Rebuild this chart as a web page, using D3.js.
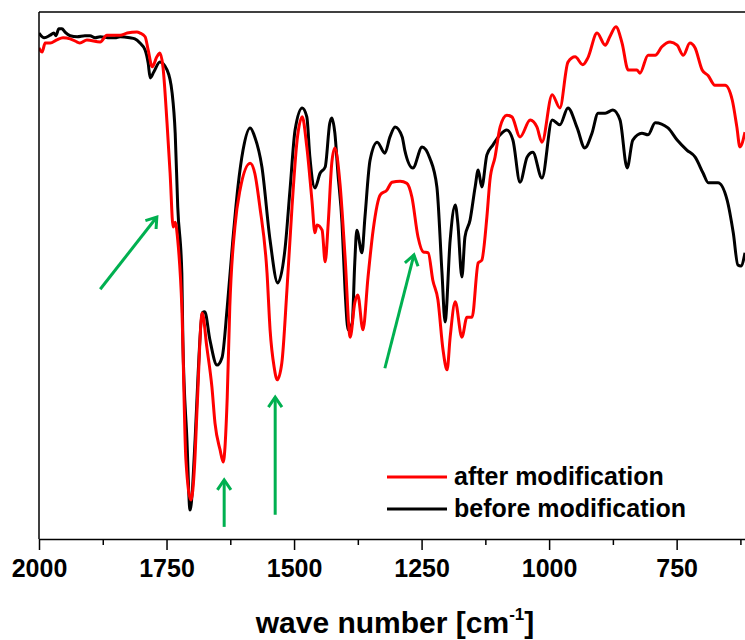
<!DOCTYPE html>
<html>
<head>
<meta charset="utf-8">
<script src="https://cdn.jsdelivr.net/npm/d3@7"></script>
<style>
  body { margin: 0; background: #fff; }
  text { font-family: Arial, "Liberation Sans", sans-serif; font-weight: bold; }
</style>
</head>
<body>
<div id="chart"></div>
<script>
// wavenumbers (cm-1) and transmittance (a.u., 0-100)
const beforeWn = [2000,1990,1978,1971,1967,1961,1955,1949,1939,1925,1910,1900,1890,1880,1861,1851,1841,1822,1812,1802,1792,1786,1782,1775,1763,1749,1739,1733,1728,1720,1718,1710,1704,1694,1688,1680,1675,1665,1651,1641,1631,1620,1610,1600,1586,1577,1563,1547,1532,1518,1508,1498,1484,1475,1469,1459,1449,1439,1430,1426,1420,1414,1406,1400,1394,1386,1381,1377,1367,1361,1351,1337,1322,1312,1302,1288,1283,1267,1249,1234,1220,1210,1204,1194,1184,1179,1171,1165,1155,1145,1139,1132,1122,1110,1096,1083,1071,1057,1043,1032,1014,994,979,963,945,930,916,904,890,875,861,847,836,818,806,792,767,749,730,714,698,688,669,651,639,630,624,616];
const beforeT = [96.0,95.1,95.6,96.0,95.5,96.8,96.8,96.2,95.5,95.3,95.5,95.5,95.1,95.3,95.1,95.1,95.3,95.1,94.9,94.1,92.8,90.3,87.5,88.6,90.5,89.0,84.6,77.0,63.0,50.5,37.8,18.8,5.5,18.8,31.5,42.9,43.1,37.8,33.0,34.5,44.0,56.7,66.8,73.8,78.0,76.3,70.6,56.7,48.6,54.8,66.2,77.6,81.8,80.1,72.5,66.6,69.4,70.6,78.9,79.9,77.0,69.4,60.0,47.2,39.7,41.0,52.4,58.6,54.3,61.1,71.9,75.3,73.2,76.3,78.2,76.3,73.8,70.4,74.4,72.3,66.8,50.5,41.2,56.7,63.4,60.0,49.7,57.3,60.5,66.8,70.0,66.8,72.9,74.8,76.7,77.6,75.7,67.7,72.5,73.4,68.5,79.5,78.6,81.8,78.0,74.2,77.0,80.8,80.8,81.4,79.5,70.4,75.7,77.0,76.7,79.0,78.0,75.7,73.8,72.5,69.4,67.6,67.6,64.3,58.1,52.0,51.8,54.3];

const afterWn = [2000,1994,1988,1978,1965,1953,1939,1925,1920,1906,1880,1867,1841,1827,1808,1802,1792,1786,1778,1769,1763,1757,1749,1743,1737,1733,1728,1720,1712,1702,1695,1690,1680,1671,1661,1655,1645,1639,1631,1626,1616,1606,1586,1577,1567,1553,1547,1539,1533,1524,1514,1504,1494,1484,1475,1465,1459,1455,1445,1439,1433,1426,1420,1410,1400,1390,1381,1375,1365,1355,1345,1331,1318,1308,1292,1279,1269,1257,1247,1237,1228,1218,1208,1200,1194,1184,1171,1161,1151,1139,1132,1122,1116,1106,1096,1083,1073,1057,1037,1024,1014,994,979,963,949,934,924,906,890,881,869,857,845,828,822,806,792,779,763,749,737,724,714,700,688,675,655,641,632,626,616];
const afterT = [93.2,92.4,94.1,94.1,94.7,95.1,94.9,94.3,94.1,94.7,94.3,95.6,95.6,96.0,96.2,96.0,95.3,92.8,89.6,91.5,92.2,89.6,78.9,69.4,59.2,60.1,56.7,44.0,15.0,7.4,14.0,25.0,42.9,36.4,28.8,22.0,16.9,14.6,26.9,44.0,59.2,66.2,71.3,69.4,63.0,50.5,39.7,32.6,30.2,33.4,47.2,63.0,75.7,80.1,74.4,64.3,58.1,59.6,58.6,52.6,60.0,71.4,74.2,67.5,53.5,38.3,44.8,46.3,39.7,49.7,58.6,65.3,66.2,67.7,67.9,67.5,64.9,57.3,54.5,54.3,49.1,45.4,35.9,32.1,38.3,45.0,38.3,42.1,42.1,52.4,52.9,61.1,68.1,72.5,78.2,80.4,80.1,76.3,79.5,78.2,75.3,84.3,81.8,90.5,91.5,90.0,91.3,96.0,93.7,95.3,97.2,94.1,89.0,89.0,88.4,91.8,91.8,93.4,94.3,93.7,91.8,94.1,93.2,89.0,87.9,86.1,86.1,83.3,78.2,74.4,77.2];

const majorTicks = [2000, 1750, 1500, 1250, 1000, 750];
const minorTicks = [1875, 1625, 1375, 1125, 875, 625];

const seriesNames = ["after modification", "before modification"];
const seriesColors = ["#ff0000", "#000000"];

// annotation arrows [fromWn, fromT, toWn, toT]
const arrows = [
  [1880, 47.4, 1769, 61.1],
  [1637, 2.3, 1637, 11.2],
  [1537, 4.6, 1537, 26.9],
  [1322, 32.4, 1265, 53.9]
];

const width = 745, height = 640;
const plotL = 39, plotR = 745, plotT = 12, plotB = 539;

const svg = d3.select("#chart").append("svg")
  .attr("width", width)
  .attr("height", height);

const x = d3.scaleLinear().domain([2000, 616]).range([plotL, plotR]);
const y = d3.scaleLinear().domain([0, 100]).range([plotB, plotT]);

svg.append("clipPath").attr("id", "plot")
  .append("rect").attr("x", plotL).attr("y", plotT).attr("width", plotR - plotL).attr("height", plotB - plotT);

const line = d3.line()
  .x(d => x(d[0]))
  .y(d => y(d[1]))
  .curve(d3.curveMonotoneX);

const before = beforeWn.map((w, i) => [w, beforeT[i]]);
const after = afterWn.map((w, i) => [w, afterT[i]]);

const g = svg.append("g").attr("clip-path", "url(#plot)");
g.append("path").datum(before)
  .attr("d", line).attr("fill", "none")
  .attr("stroke", seriesColors[1]).attr("stroke-width", 3).attr("stroke-linejoin", "round");
g.append("path").datum(after)
  .attr("d", line).attr("fill", "none")
  .attr("stroke", seriesColors[0]).attr("stroke-width", 3).attr("stroke-linejoin", "round");

// frame: left and top lines
svg.append("line").attr("x1", plotL).attr("x2", plotL).attr("y1", plotT).attr("y2", plotB)
  .attr("stroke", "#000").attr("stroke-width", 1.5);
svg.append("line").attr("x1", plotL).attr("x2", plotR).attr("y1", plotT).attr("y2", plotT)
  .attr("stroke", "#000").attr("stroke-width", 1.5);

// bottom axis
const xAxis = svg.append("g").attr("transform", `translate(0,${plotB})`)
  .call(d3.axisBottom(x).tickValues(majorTicks).tickFormat(d3.format("d")).tickSize(11).tickPadding(9).tickSizeOuter(0));
xAxis.select(".domain").attr("stroke-width", 1.5);
xAxis.selectAll(".tick line").attr("stroke-width", 1.5);
xAxis.selectAll(".tick text").attr("font-size", "25px").attr("font-family", "Arial, 'Liberation Sans', sans-serif").attr("font-weight", "bold").attr("fill", "#000");

svg.append("g").attr("transform", `translate(0,${plotB})`)
  .call(d3.axisBottom(x).tickValues(minorTicks).tickFormat("").tickSize(6).tickSizeOuter(0))
  .call(s => s.select(".domain").remove())
  .selectAll(".tick line").attr("stroke-width", 1.5);

// axis title
const title = svg.append("text")
  .attr("x", 395).attr("y", 633)
  .attr("text-anchor", "middle")
  .attr("font-size", "30px");
title.append("tspan").text("wave number [cm");
title.append("tspan").attr("font-size", "17px").attr("dy", -13).text("-1");
title.append("tspan").attr("dy", 13).text("]");

// arrows
const green = "#00b050";
arrows.forEach(a => {
  const x1 = x(a[0]), y1 = y(a[1]), x2 = x(a[2]), y2 = y(a[3]);
  const ang = Math.atan2(y2 - y1, x2 - x1);
  const hl = 12, spread = 0.6;
  svg.append("line").attr("x1", x1).attr("y1", y1).attr("x2", x2).attr("y2", y2)
    .attr("stroke", green).attr("stroke-width", 3);
  svg.append("path")
    .attr("d", `M${x2 - hl * Math.cos(ang - spread)},${y2 - hl * Math.sin(ang - spread)}L${x2},${y2}L${x2 - hl * Math.cos(ang + spread)},${y2 - hl * Math.sin(ang + spread)}`)
    .attr("fill", "none").attr("stroke", green).attr("stroke-width", 3)
    .attr("stroke-linejoin", "miter");
});

// legend
const legend = svg.append("g").attr("transform", "translate(387,477)");
seriesNames.forEach((name, i) => {
  legend.append("line").attr("x1", 0).attr("x2", 60).attr("y1", i * 32).attr("y2", i * 32)
    .attr("stroke", seriesColors[i]).attr("stroke-width", 3);
  legend.append("text").attr("x", 67).attr("y", i * 32 + 8)
    .attr("font-size", "25px").text(name);
});
</script>
</body>
</html>
